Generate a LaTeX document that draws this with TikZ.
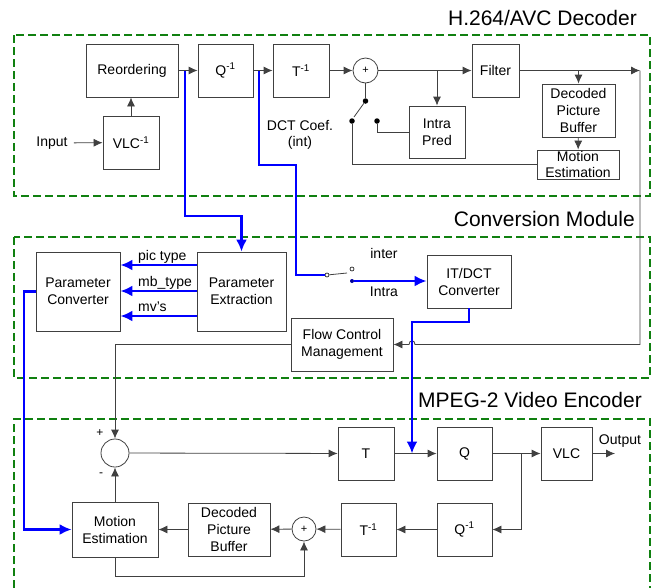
\documentclass[tikz,border=0pt]{standalone}
\usepackage{fontspec}
\setmainfont{Liberation Sans}
\usepackage{tikz}
\usetikzlibrary{arrows.meta}
\definecolor{dkgreen}{RGB}{16,128,16}
\definecolor{wiregray}{RGB}{64,64,64}
\tikzstyle{block} = [rectangle, draw=wiregray, line width=0.8pt, align=center,
    inner sep=0pt, font=\fontsize{14}{17}\selectfont]
\tikzstyle{adder} = [circle, draw=wiregray, line width=0.8pt, inner sep=0pt,
    font=\fontsize{11}{13}\selectfont]
\tikzstyle{txt} = [inner sep=0pt, align=center, font=\fontsize{14}{16}\selectfont]
\tikzstyle{title} = [inner sep=0pt, anchor=base east, font=\fontsize{21}{25}\selectfont]
\tikzstyle{dot} = [circle, fill=black, inner sep=0pt, minimum size=5.5pt]
\tikzstyle{odot} = [circle, draw=black, fill=white, line width=0.6pt, inner sep=0pt, minimum size=4pt]
\tikzstyle{wire} = [draw=wiregray, line width=0.8pt]
\tikzstyle{line} = [wire, -{Latex[length=9pt,width=8pt]}]
\tikzstyle{bwire} = [draw=blue, line width=2.4pt]
\tikzstyle{bline} = [bwire, -{Latex[length=12pt,width=11pt]}]
\tikzstyle{module} = [draw=dkgreen, line width=2pt, dash pattern=on 8pt off 4pt]

\begin{document}
\begin{tikzpicture}[x=1pt, y=-1pt]
            \useasboundingbox (0,0) rectangle (658,587);

            % Modules
            \draw [module] (14,35) rectangle (650,196);
            \draw [module] (14,237) rectangle (650,378);
            \draw [module] (14,600) -- (14,419) -- (650,419) -- (650,600);
            \node [title] (tdec) at (637,25) {H.264/AVC Decoder};
            \node [title] (tconv) at (635,226) {Conversion Module};
            \node [title] (tenc) at (642,407) {MPEG-2 Video Encoder};

            % Place nodes (decoder)
            \node [txt] (input) at (52,143) {Input};
            \node [block, minimum width=56, minimum height=53] (vlc1) at (131,142.5) {VLC\textsuperscript{-1}};
            \node [block, minimum width=92, minimum height=53] (reorder) at (132,70.5) {Reordering};
            \node [block, minimum width=55, minimum height=53] (qinv1) at (225.5,70.5) {Q\textsuperscript{-1}};
            \node [block, minimum width=56, minimum height=53] (tinv1) at (301,70.5) {T\textsuperscript{-1}};
            \node [adder, minimum size=25] (sum1) at (365.5,70.5) {+};
            \node [block, minimum width=47, minimum height=53] (filter) at (495.5,70.5) {Filter};
            \node [block, minimum width=56, minimum height=52] (intra) at (437,132) {Intra\\Pred};
            \node [block, minimum width=73, minimum height=53] (dpb1) at (578.5,110.5) {Decoded\\Picture\\Buffer};
            \node [block, minimum width=82, minimum height=29, font=\fontsize{14}{16}\selectfont] (me1) at (578,164.5) {Motion\\Estimation};
            \node [txt] (dctlab) at (300,135) {DCT Coef.\\(int)};
            \node [dot] (swp) at (365.5,101) {};
            \node [dot] (swl) at (352,121) {};
            \node [dot] (swr) at (377,121) {};
            \coordinate (outr) at (640,70.5);
            \coordinate (tap1) at (185,70.5);
            \coordinate (tap2) at (259,70.5);

            % Place nodes (conversion)
            \node [block, minimum width=84, minimum height=79] (pconv) at (78,291.5) {Parameter\\Converter};
            \node [block, minimum width=89, minimum height=79] (pext) at (241.5,291.5) {Parameter\\Extraction};
            \node [block, minimum width=84, minimum height=53] (itdct) at (469,281.5) {IT/DCT\\Converter};
            \node [block, minimum width=102, minimum height=53] (flow) at (342,344.5) {Flow Control\\Management};
            \node [odot] (piv) at (327,275) {};
            \node [odot] (inter) at (352,269) {};
            \node [circle, fill=blue!60!black, inner sep=0pt, minimum size=4pt] (intrac) at (352,281) {};
            \node [txt] (interlab) at (384,253) {inter};
            \node [txt] (intralab) at (384,292) {Intra};
            \node [txt, anchor=base west] (pictype) at (138,260) {pic type};
            \node [txt, anchor=base west] (mbtype) at (138,286) {mb\_type};
            \node [txt, anchor=base west] (mvs) at (138,311) {mv's};

            % Place nodes (encoder)
            \node [adder, minimum size=28] (sub) at (115,453) {};
            \node [txt, font=\fontsize{12}{14}\selectfont] (plus) at (100,433) {+};
            \node [txt, font=\fontsize{12}{14}\selectfont] (minus) at (101,475) {-};
            \node [block, minimum width=56, minimum height=53] (tbox) at (366,453.5) {T};
            \node [block, minimum width=55, minimum height=53] (qbox) at (464.5,453.5) {Q};
            \node [block, minimum width=51, minimum height=53] (vlc2) at (566.5,453.5) {VLC};
            \node [txt] (outlab) at (620,441) {Output};
            \node [block, minimum width=55, minimum height=53] (qinv2) at (464.5,529.5) {Q\textsuperscript{-1}};
            \node [block, minimum width=55, minimum height=53] (tinv2) at (368.5,529.5) {T\textsuperscript{-1}};
            \node [adder, minimum size=24] (sum2) at (304,529) {+};
            \node [block, minimum width=82, minimum height=53] (dpb2) at (229,529.5) {Decoded\\Picture\\Buffer};
            \node [block, minimum width=86, minimum height=55] (me2) at (115,529.5) {Motion\\Estimation};
            \coordinate (tq) at (412,453.5);
            \coordinate (qbr) at (521,453.5);

            % Draw edges (decoder)
            \path [line, shorten <=6pt] (input) -- (vlc1);
            \path [line] (vlc1.north) -- (vlc1.north |- reorder.south);
            \path [line] (reorder) -- (qinv1);
            \path [line] (qinv1) -- (tinv1);
            \path [line] (tinv1) -- (sum1);
            \path [line] (sum1) -- (filter);
            \path [line] (filter) -- (outr);
            \path [line] (437,70.5) -- (intra.north);
            \path [line] (578.5,70.5) -- (dpb1.north);
            \path [line] (dpb1) -- (me1);
            \path [wire] (sum1.south) -- (swp);
            \path [wire] (swp) -- (354,117);
            \path [wire] (swr) |- (intra.west);
            \path [wire] (swl) |- (me1.west);

            % Draw edges (conversion)
            \path [bline] (tap1) -- (185,216) -| (pext.north);
            \path [bwire] (tap2) |- (296,165) |- (piv);
            \path [wire] (piv) -- (347,273);
            \path [bline] (intrac) -- (itdct.west |- intrac);
            \path [bline] (pext.west |- 0,265) -- (pconv.east |- 0,265);
            \path [bline] (pext.west |- 0,291) -- (pconv.east |- 0,291);
            \path [bline] (pext.west |- 0,316) -- (pconv.east |- 0,316);
            \path [line] (outr) -- (640,344.5) -- (415,344.5)
                .. controls (415,339.5) and (409,339.5) .. (409,344.5) -- (flow.east);
            \path [bline] (itdct.south) -- (469,322) -| (tq);
            \path [bline] (pconv.west) -- (24,291.5) |- (me2.west);
            \path [line] (flow.west) -| (sub.north);

            % Draw edges (encoder)
            \path [line] (sub) -- (tbox);
            \path [line] (tbox) -- (qbox);
            \path [line] (qbox) -- (vlc2);
            \path [line] (vlc2.east) -- (615,453.5);
            \path [line] (qbr) |- (qinv2.east);
            \path [line] (qinv2) -- (tinv2);
            \path [line] (tinv2) -- (sum2);
            \path [line] (sum2) -- (dpb2);
            \path [line] (dpb2) -- (me2);
            \path [line] (me2) -- (sub);
            \path [line] (me2.south) -- (115,576) -| (sum2.south);

        \end{tikzpicture}
\end{document}
